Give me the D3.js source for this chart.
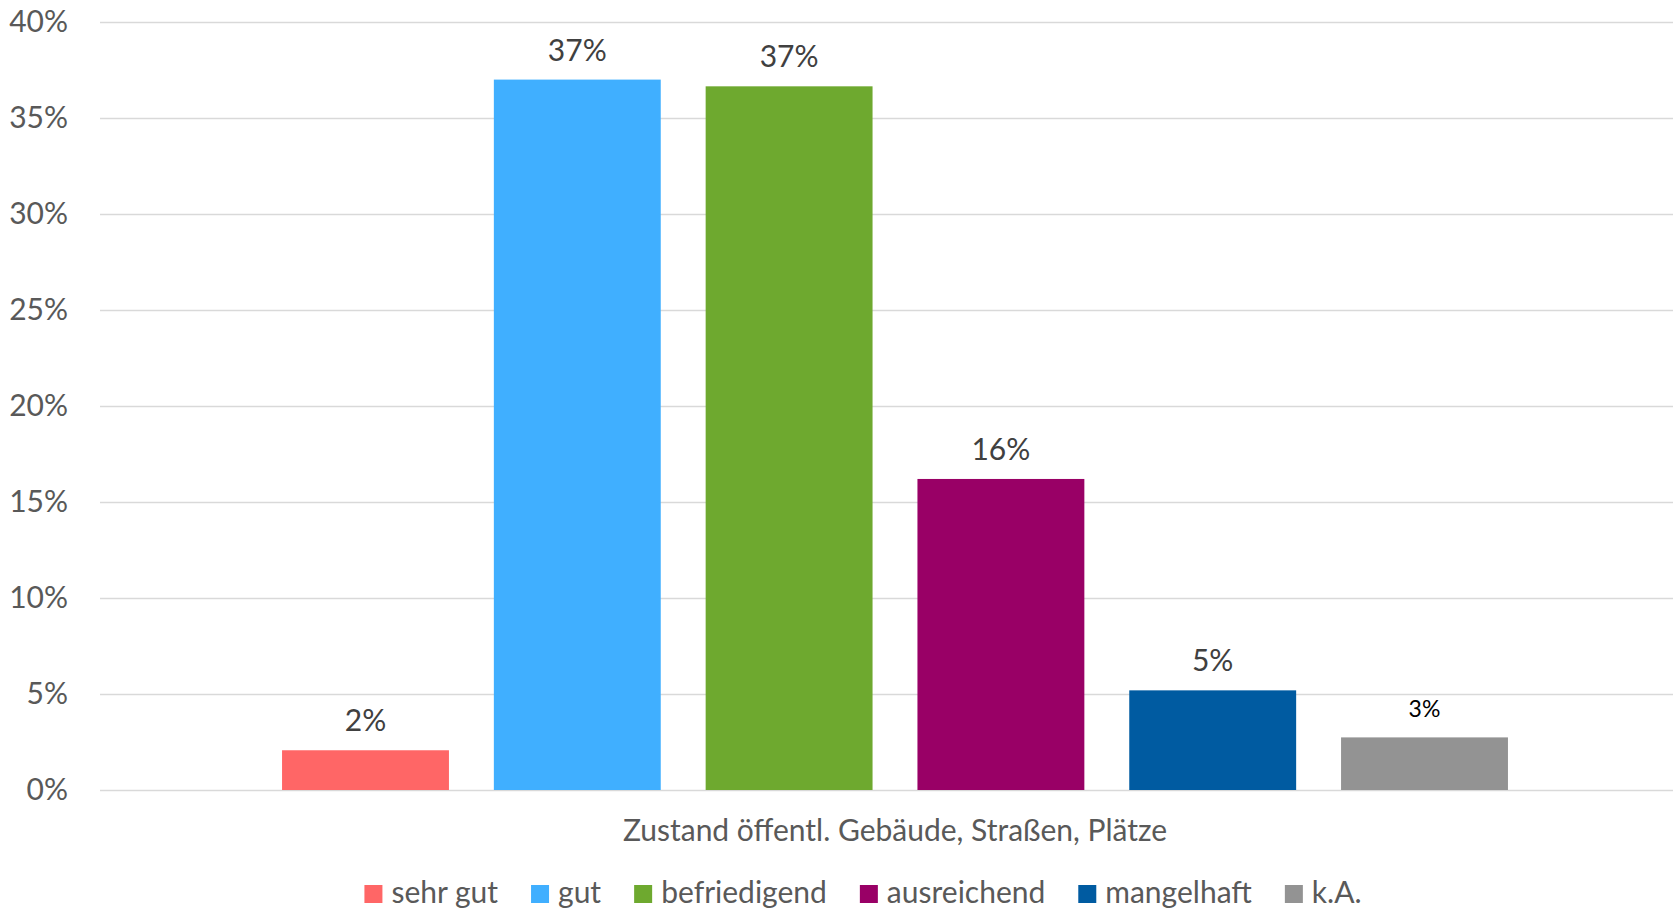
<!DOCTYPE html>
<html>
<head>
<meta charset="utf-8">
<script src="https://cdn.jsdelivr.net/npm/d3@7"></script>
<style>
  body { margin: 0; background: #fff; }
  text { font-family: Lato, "Open Sans", sans-serif; }
</style>
</head>
<body>
<div id="chart"></div>
<script>
let width = 1673,
height = 910;

// data
let categories = ["Zustand öffentl. Gebäude, Straßen, Plätze"];
let keys = ["sehr gut", "gut", "befriedigend", "ausreichend", "mangelhaft", "k.A."];
let values = [2.07, 37.0, 36.65, 16.2, 5.19, 2.74];
let labels = ["2%", "37%", "37%", "16%", "5%", "3%"];
let colors = ["#FF6666", "#40AFFF", "#6EA92F", "#990066", "#005BA1", "#939393"];
let yTicks = [0, 5, 10, 15, 20, 25, 30, 35, 40];

let fontSize = 30;

let svg = d3.select("#chart")
.append("svg")
.attr("width", width)
.attr("height", height);

let y = d3.scaleLinear()
.domain([0, 40])
.range([790, 22]);

let x0 = d3.scaleBand()
.domain(categories)
.range([100, 1690])
.paddingOuter(0.1485);

let x1 = d3.scaleBand()
.domain(keys)
.range([0, x0.bandwidth()])
.paddingInner(0.212);

let color = d3.scaleOrdinal().domain(keys).range(colors);

// gridlines + tick labels
let yAxis = d3.axisLeft(y)
.tickValues(yTicks)
.tickSize(-(1673 - 100))
.tickPadding(32)
.tickFormat(d => d + "%");

let axisG = svg.append("g")
.attr("transform", "translate(100,0)")
.call(yAxis);

axisG.select(".domain").remove();
axisG.selectAll(".tick line")
.attr("stroke", "#D9D9D9")
.attr("stroke-width", 1.5);
axisG.selectAll(".tick text")
.attr("fill", "#595959")
.style("font-size", fontSize + "px")
.style("font-family", "Lato, 'Open Sans', sans-serif");

// bars
let rows = keys.map((k, i) => ({ key: k, value: values[i], label: labels[i] }));

let group = svg.append("g")
.attr("transform", "translate(" + x0(categories[0]) + ",0)");

group.selectAll("rect")
.data(rows)
.enter()
.append("rect")
.attr("x", d => x1(d.key))
.attr("y", d => y(d.value))
.attr("width", x1.bandwidth())
.attr("height", d => y(0) - y(d.value))
.attr("fill", d => color(d.key));

group.selectAll(".lbl")
.data(rows)
.enter()
.append("text")
.classed("lbl", true)
.attr("x", d => x1(d.key) + x1.bandwidth() / 2)
.attr("y", d => y(d.value) - (d.key === "k.A." ? 20 : 19))
.attr("text-anchor", "middle")
.attr("fill", d => d.key === "k.A." ? "#000" : "#404040")
.style("font-size", d => (d.key === "k.A." ? 23 : fontSize) + "px")
.text(d => d.label);

// category label
svg.append("text")
.attr("x", x0(categories[0]) + x0.bandwidth() / 2)
.attr("y", 841)
.attr("text-anchor", "middle")
.attr("fill", "#595959")
.style("font-size", fontSize + "px")
.text(categories[0]);

// legend
let legend = svg.append("g");
let items = legend.selectAll("g")
.data(keys)
.enter()
.append("g");

items.append("rect")
.attr("width", 18)
.attr("height", 18)
.attr("y", 885)
.attr("fill", d => color(d));

items.append("text")
.attr("x", 27)
.attr("y", 903)
.attr("fill", "#595959")
.style("font-size", fontSize + "px")
.text(d => d);

let gap = 33;
let pos = 0;
items.each(function() {
    let w = this.querySelector("text").getComputedTextLength();
    d3.select(this).attr("transform", "translate(" + pos + ",0)");
    pos += 27 + w + gap;
});
let total = pos - gap;
legend.attr("transform", "translate(" + (863 - total / 2) + ",0)");
</script>
</body>
</html>
